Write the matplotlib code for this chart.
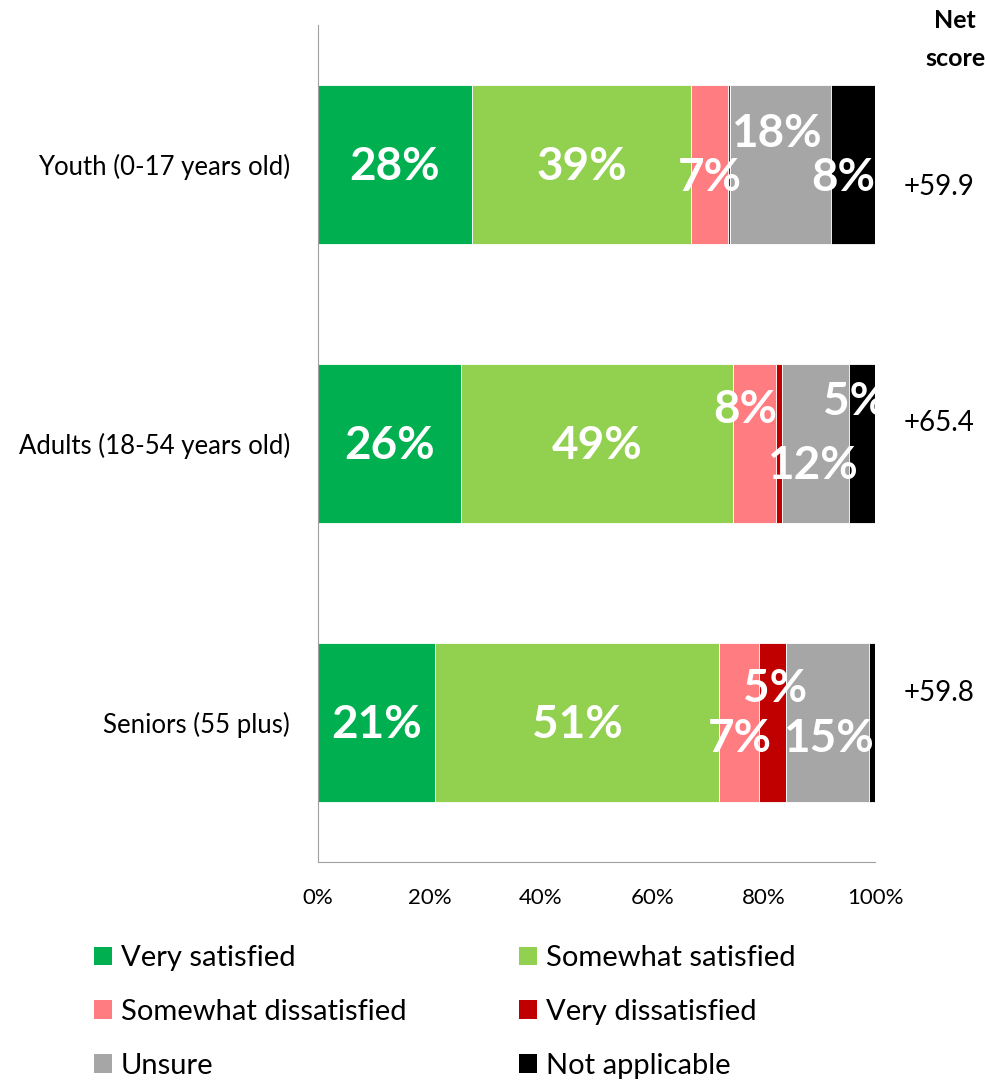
import numpy as np
import matplotlib.pyplot as plt
from matplotlib.patches import Patch

# Data (percent of respondents).
groups = ["Youth (0-17 years old)", "Adults (18-54 years old)", "Seniors (55 plus)"]
series = ["Very satisfied", "Somewhat satisfied", "Somewhat dissatisfied",
          "Very dissatisfied", "Unsure", "Not applicable"]
very_sat = [27.6, 25.7, 21.0]
somewhat_sat = [39.4, 48.8, 51.0]
somewhat_dis = [6.6, 7.7, 7.2]
very_dis = [0.4, 1.1, 4.8]
unsure = [18.1, 12.0, 14.9]
not_app = [7.9, 4.7, 1.1]
labels_shown = [["28%", "39%", "7%", "", "18%", "8%"],
                ["26%", "49%", "8%", "", "12%", "5%"],
                ["21%", "51%", "7%", "5%", "15%", ""]]
net_score = ["+59.9", "+65.4", "+59.8"]

colors = ["#00B050", "#92D050", "#FF7C80", "#C00000", "#A6A6A6", "#000000"]

# label nudges (x in %, y in category units), to mimic the Excel label placement
nudge = {(0, 2): (0, 0.05), (0, 4): (-0.7, -0.11), (0, 5): (-1.8, 0.05),
         (1, 2): (-1.6, -0.12), (1, 4): (-0.5, 0.08), (1, 5): (-1.3, -0.15),
         (2, 2): (0.2, 0.06), (2, 3): (0.5, -0.12), (2, 4): (0.1, 0.06)}

plt.rcParams['font.family'] = ['Lato', 'DejaVu Sans']

fig = plt.figure(figsize=(9.85, 10.89), dpi=100)
ax = fig.add_axes([318/985, 1-862/1089, 557/985, 837/1089])

data = np.array([very_sat, somewhat_sat, somewhat_dis, very_dis, unsure, not_app])
y = np.arange(len(groups))
left = np.zeros(len(groups))
for k in range(len(series)):
    ax.barh(y, data[k], left=left, height=0.57, color=colors[k],
            edgecolor='white', linewidth=0.6, label=series[k])
    for i in range(len(groups)):
        txt = labels_shown[i][k]
        if txt:
            dx, dy = nudge.get((i, k), (0, 0.01))
            ax.text(left[i] + data[k][i]/2 + dx, y[i] + dy, txt, ha='center', va='center',
                    color='white', fontsize=33, fontweight='bold', clip_on=True)
    left += data[k]

ax.set_xlim(0, 100)
ax.set_ylim(2.5, -0.5)
ax.set_yticks(y)
ax.set_yticklabels(groups, fontsize=18.5)
ax.set_xticks([0, 20, 40, 60, 80, 100])
ax.set_xticklabels([f"{v}%" for v in [0, 20, 40, 60, 80, 100]], fontsize=16)
ax.tick_params(axis='x', length=0, pad=19)
ax.tick_params(axis='y', length=0, pad=20)
for s in ['top', 'right']:
    ax.spines[s].set_visible(False)
for s in ['left', 'bottom']:
    ax.spines[s].set_color('#A0A0A0')

# net score column
fig.text(955/985, 1-20/1089, "Net", ha='center', va='center', fontsize=18, fontweight='bold')
fig.text(955/985, 1-58/1089, "score", ha='center', va='center', fontsize=18, fontweight='bold')
net_y = [187, 423, 693]
for i in range(len(groups)):
    fig.text(904/985, 1-net_y[i]/1089, net_score[i], ha='left', va='center', fontsize=20)

order = [0, 2, 4, 1, 3, 5]
handles = [Patch(facecolor=colors[k], label=series[k]) for k in order]
fig.legend(handles=handles, loc='upper left', bbox_to_anchor=(68/985, 1-919/1089),
           ncol=2, frameon=False, fontsize=21, handlelength=0.62, handleheight=0.62,
           handletextpad=0.3, columnspacing=3.85, labelspacing=0.95)

plt.savefig("out.png", dpi=100)
